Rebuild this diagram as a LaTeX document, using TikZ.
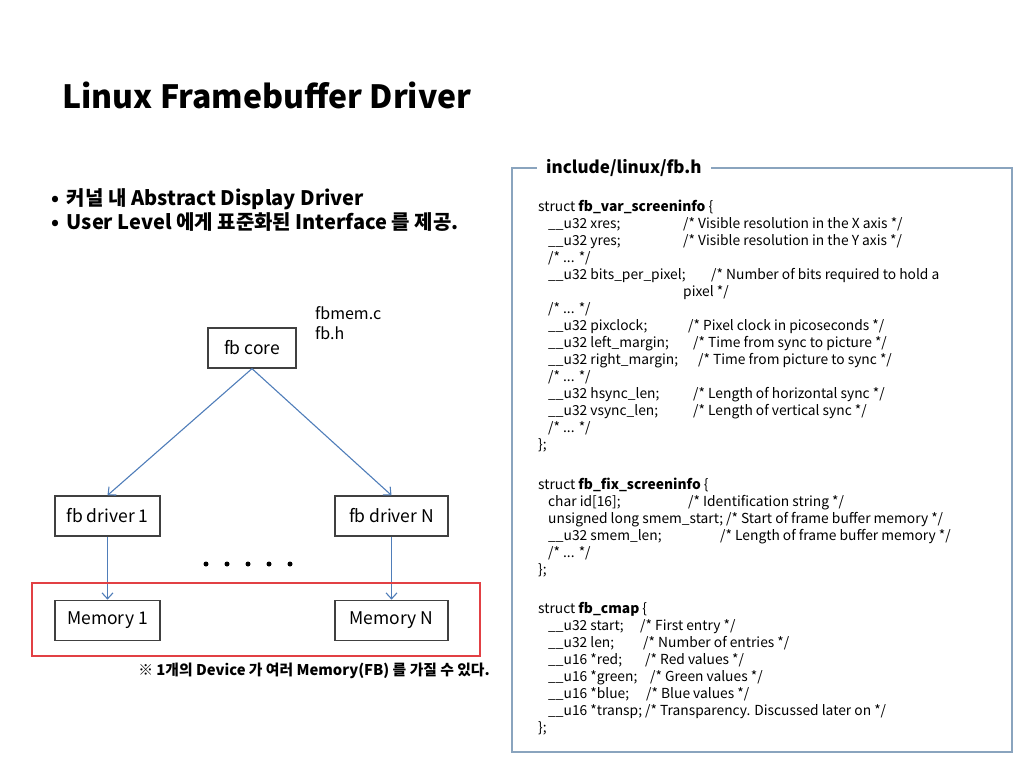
\documentclass[tikz,border=0pt]{standalone}
\usepackage{fontspec}
\setmainfont{Noto Sans CJK KR}
\usepackage{tikz}
\usetikzlibrary{arrows.meta, positioning}
\definecolor{linkblue}{RGB}{79, 125, 185}
\definecolor{framered}{RGB}{226, 64, 68}
\definecolor{hdrgray}{RGB}{138, 164, 190}
\definecolor{boxgray}{RGB}{64, 64, 64}

% one member line of a struct: comment column offset, declaration, comment
\newcommand{\fld}[3]{\hspace*{10pt}\makebox[#1pt][l]{#2}#3}

\begin{document}
\begin{tikzpicture}[x=1pt, y=-1pt,
  blk/.style={draw=boxgray, line width=1.3pt, rectangle, minimum height=40pt, inner sep=0pt, font=\fontsize{17.5}{20}\selectfont},
  link/.style={-{Straight Barb[length=6pt, width=11pt]}, linkblue, line width=1.1pt},
  code/.style={anchor=base west, inner sep=0pt, align=left, font=\fontsize{13.8}{17}\selectfont},
]
  \useasboundingbox (0,0) rectangle (1024,768);

  % Title and bullets
  \node[anchor=base west, inner sep=0pt, font=\fontsize{32}{36}\selectfont\bfseries] (title) at (62,108) {Linux Framebuffer Driver};
  \node[anchor=base west, inner sep=0pt, align=left, font=\fontsize{20}{23.5}\selectfont\bfseries] (bullets) at (51,229)
    {•\hspace{3pt} 커널 내 Abstract Display Driver\\•\hspace{3pt} User Level 에게 표준화된 Interface 를 제공.};

  % Framebuffer layers
  \node[blk, minimum width=88pt] (core) at (252,348) {fb core};
  \node[anchor=north west, inner sep=0pt, align=left, font=\fontsize{16}{20}\selectfont] (files) at (315,306) {fbmem.c\\fb.h};
  \node[blk, minimum width=105pt] (drv1) at (107.5,516) {fb driver 1};
  \node[blk, minimum width=113pt] (drvN) at (391.5,516) {fb driver N};
  \node[blk, minimum width=105pt, below=63pt of drv1] (mem1) {Memory 1};
  \node[blk, minimum width=113pt, below=63pt of drvN] (memN) {Memory N};

  % Connections
  \draw[link] (core.south) -- (drv1.north);
  \draw[link] (core.south) -- (drvN.north);
  \draw[link] (drv1.south) -- (mem1.north);
  \draw[link] (drvN.south) -- (memN.north);

  % Dots and memory frame
  \foreach \x in {206,227,248,269,290}
    \fill (\x,564) circle (2.5pt);
  \draw[framered, line width=1.3pt] (32,583) rectangle (480,656);
  \node[anchor=base east, inner sep=0pt, font=\fontsize{14.8}{17}\selectfont\bfseries] (note) at (490,675)
    {※ 1개의 Device 가 여러 Memory(FB) 를 가질 수 있다.};

  % Header file box
  \draw[hdrgray, line width=1.3pt] (512,168) rectangle (1012,752);
  \node[anchor=west, fill=white, inner xsep=9pt, inner ysep=2pt, font=\fontsize{17}{19}\selectfont\bfseries] (hdr) at (537,168) {include/linux/fb.h};

  % struct listings (base is the last line)
  \node[code] (varinfo) at (538,449) {struct \textbf{fb\_var\_screeninfo} \{\\
    \fld{135}{\_\_u32 xres;}{/* Visible resolution in the X axis */}\\
    \fld{135}{\_\_u32 yres;}{/* Visible resolution in the Y axis */}\\
    \hspace*{10pt}/* ... */\\
    \fld{163}{\_\_u32 bits\_per\_pixel;}{/* Number of bits required to hold a}\\
    \hspace*{145pt}pixel */\\
    \hspace*{10pt}/* ... */\\
    \fld{140}{\_\_u32 pixclock;}{/* Pixel clock in picoseconds */}\\
    \fld{145}{\_\_u32 left\_margin;}{/* Time from sync to picture */}\\
    \fld{150}{\_\_u32 right\_margin;}{/* Time from picture to sync */}\\
    \hspace*{10pt}/* ... */\\
    \fld{145}{\_\_u32 hsync\_len;}{/* Length of horizontal sync */}\\
    \fld{145}{\_\_u32 vsync\_len;}{/* Length of vertical sync */}\\
    \hspace*{10pt}/* ... */\\
    \};};

  \node[code] (fixinfo) at (538,574) {struct \textbf{fb\_fix\_screeninfo} \{\\
    \fld{140}{char id[16];}{/* Identification string */}\\
    \hspace*{10pt}unsigned long smem\_start; /* Start of frame buffer memory */\\
    \fld{172}{\_\_u32 smem\_len;}{/* Length of frame buffer memory */}\\
    \hspace*{10pt}/* ... */\\
    \};};

  \node[code] (cmap) at (538,732) {struct \textbf{fb\_cmap} \{\\
    \fld{92}{\_\_u32 start;}{/* First entry */}\\
    \fld{95}{\_\_u32 len;}{/* Number of entries */}\\
    \fld{97}{\_\_u16 *red;}{/* Red values */}\\
    \fld{102}{\_\_u16 *green;}{/* Green values */}\\
    \fld{98}{\_\_u16 *blue;}{/* Blue values */}\\
    \fld{97}{\_\_u16 *transp;}{/* Transparency. Discussed later on */}\\
    \};};
\end{tikzpicture}
\end{document}
